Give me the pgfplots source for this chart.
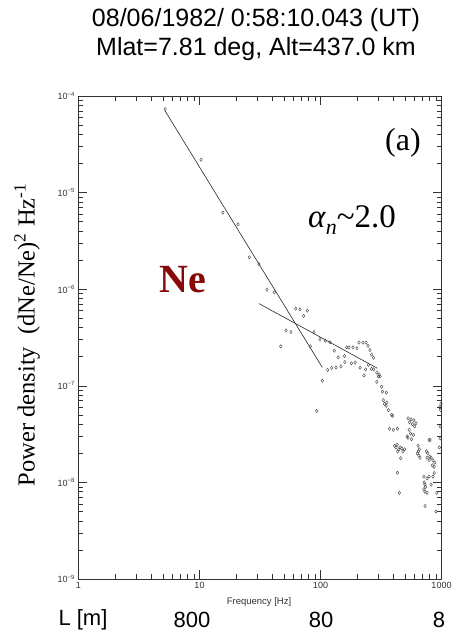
\documentclass[border=0pt]{standalone}
\usepackage{fontspec}
\setmainfont{Liberation Sans}
\newfontfamily\serif{Liberation Serif}
\usepackage{pgfplots}
\pgfplotsset{compat=1.18}
\definecolor{nered}{RGB}{135,8,8}

% spectrum points, frequency [Hz] vs power density
\pgfplotstableread{
f p
5.2 7.3e-5
10.3 2.19e-5
15.6 6.2e-6
20.8 4.7e-6
25.8 2.14e-6
31 1.82e-6
36.1 9.9e-7
41.5 9.3e-7
46.9 2.56e-7
51.9 3.75e-7
57 3.6e-7
62.4 6.3e-7
67.7 6.2e-7
72.6 5.3e-7
77.8 6.0e-7
82.4 2.56e-7
88.4 3.6e-7
93 5.5e-8
99 3.03e-7
103.5 1.13e-7
109.6 2.93e-7
114.7 1.46e-7
119.9 2.82e-7
123.8 1.53e-7
130 2.31e-7
134.3 1.55e-7
140 1.97e-7
147.6 1.59e-7
158 2.04e-7
159 1.76e-7
164.7 2.5e-7
172 2.5e-7
180 1.71e-7
185.6 2.5e-7
193.6 1.74e-7
200 2.45e-7
208 2.8e-7
212.6 1.54e-7
224 2.8e-7
229 1.28e-7
236 1.48e-7
237.8 2.8e-7
247 2.6e-7
249 1.65e-7
256 2.35e-7
264 1.50e-7
265 2.1e-7
275 1.48e-7
275 1.95e-7
292 1.37e-7
292 1.10e-7
301 1.25e-7
305 1.31e-7
311 1.25e-7
320 9.8e-8
325 8.7e-8
331 7.1e-8
338 6.5e-8
349 6.2e-8
350 8.5e-8
353 6.7e-8
364 5.6e-8
387 5.0e-8
395 4.9e-8
372 3.6e-8
400 3.5e-8
432 3.6e-8
410 2.4e-8
420 2.3e-8
430 2.45e-8
445 2.2e-8
455 2.3e-8
470 2.25e-8
480 2.1e-8
495 2.2e-8
435 2.1e-8
460 1.78e-8
432 1.26e-8
448 7.8e-9
530 4.6e-8
545 4.2e-8
560 4.5e-8
575 4.0e-8
590 4.4e-8
600 3.8e-8
615 4.1e-8
540 3.5e-8
555 3.2e-8
520 3.0e-8
528 2.9e-8
565 2.8e-8
585 3.1e-8
640 2.4e-8
655 2.2e-8
630 2.0e-8
650 1.9e-8
665 1.8e-8
645 2.1e-8
790 2.75e-8
805 2.75e-8
750 2.1e-8
770 2.0e-8
800 1.85e-8
820 1.8e-8
850 1.7e-8
880 1.6e-8
790 1.7e-8
840 1.5e-8
870 1.45e-8
760 1.8e-8
715 1.15e-8
720 1.0e-8
730 9.5e-9
740 9e-9
715 8.5e-9
730 8e-9
760 7.8e-9
760 1.1e-8
790 1.15e-8
850 1.15e-8
870 1.25e-8
820 9.5e-9
731 5.7e-9
915 7.8e-9
900 5e-9
965 6.0e-8
985 5.6e-8
990 6.5e-8
975 3.8e-8
975 2.86e-8
960 2.3e-8
}\spec

\begin{document}
\begin{tikzpicture}[x=1pt,y=1pt]
\path[use as bounding box] (0,0) rectangle (455,634);
\begin{axis}[
  at={(78.5pt,55pt)}, anchor=south west,
  scale only axis, width=363pt, height=483pt,
  xmode=log, ymode=log,
  xmin=1, xmax=1000, ymin=1e-9, ymax=1e-4,
  xtick={1,10,100,1000}, xticklabels={1,10,100,1000},
  ytick={1e-9,1e-8,1e-7,1e-6,1e-5,1e-4},
  yticklabels={10\textsuperscript{−9},10\textsuperscript{−8},10\textsuperscript{−7},10\textsuperscript{−6},10\textsuperscript{−5},10\textsuperscript{−4}},
  tick align=inside, major tick length=9pt, minor tick length=5pt,
  ticklabel style={font=\fontsize{9}{10}\selectfont, black!80},
  axis line style={black!80, line width=0.8pt},
  every tick/.style={black!80, line width=0.6pt},
  clip=false,
]
\addplot[only marks, mark=diamond, mark size=1.7pt, mark options={black!75, line width=0.4pt, fill=white}] table[x=f, y=p] {\spec};
\addplot[black!85, line width=0.6pt] coordinates {(5.2,7.0e-5) (103.5,1.55e-7)};
\addplot[black!85, line width=0.6pt] coordinates {(31,7.1e-7) (294.7,1.52e-7)};
\end{axis}
% titles and labels
\node[font=\fontsize{25}{27}\selectfont] at (256,614) {08/06/1982/ 0:58:10.043 (UT)};
\node[font=\fontsize{25}{27}\selectfont] at (256,585) {Mlat=7.81 deg, Alt=437.0 km};
\node[font=\serif\fontsize{32}{34}\selectfont] at (403,491) {(a)};
\node[font=\serif\fontsize{33}{35}\selectfont] at (352,414) {\textit{α}\raisebox{-0.22em}{\fontsize{22}{22}\selectfont\textit{n}}\textasciitilde2.0};
\node[font=\serif\bfseries\fontsize{40}{42}\selectfont, text=nered] at (183,354) {Ne};
\node[font=\serif\fontsize{24.5}{26}\selectfont, rotate=90] at (27,299) {Power density\ \ (dNe/Ne)\textsuperscript{2} Hz\textsuperscript{-1}};
\node[font=\fontsize{9.5}{10}\selectfont, black!80] at (259,32) {Frequency [Hz]};
\node[font=\fontsize{22}{24}\selectfont] at (83,14) {L [m]};
\node[font=\fontsize{22}{24}\selectfont] at (192,14) {800};
\node[font=\fontsize{22}{24}\selectfont] at (321,14) {80};
\node[font=\fontsize{22}{24}\selectfont] at (439,14) {8};
\end{tikzpicture}
\end{document}
